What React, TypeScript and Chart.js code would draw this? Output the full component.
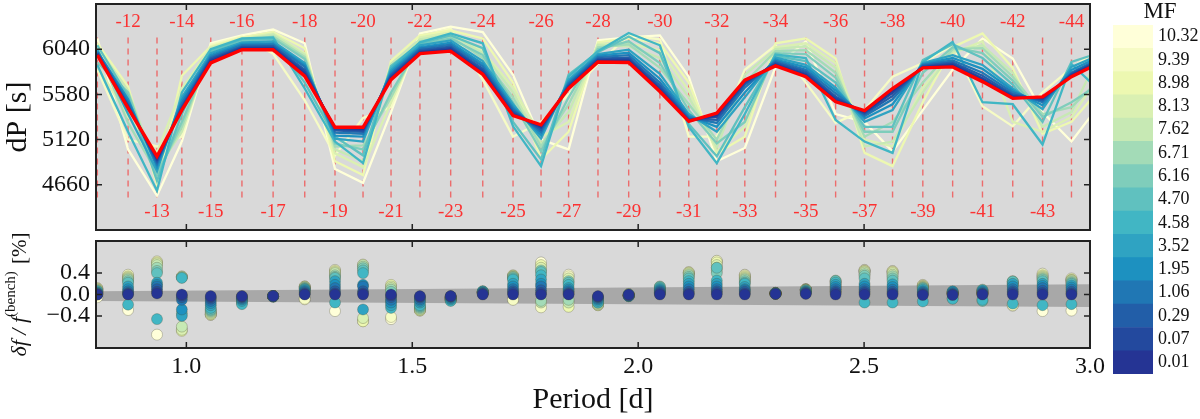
import { useEffect, useRef } from "react"
import { Chart, registerables } from "chart.js"

Chart.register(...registerables)

// radial orders of the g modes and where they sit in period (days)
const modeOrders = [
  -11, -12, -13, -14, -15, -16, -17, -18, -19, -20, -21, -22, -23, -24, -25, -26, -27, -28,
  -29, -30, -31, -32, -33, -34, -35, -36, -37, -38, -39, -40, -41, -42, -43, -44, -45,
]
const modePeriods = [
  0.803, 0.871, 0.935, 0.99, 1.054, 1.123, 1.192, 1.262, 1.329, 1.391, 1.453, 1.517, 1.585,
  1.656, 1.723, 1.785, 1.846, 1.911, 1.979, 2.048, 2.112, 2.174, 2.236, 2.304, 2.371, 2.437,
  2.501, 2.563, 2.63, 2.696, 2.762, 2.829, 2.895, 2.959, 3.025,
]

// benchmark period spacing (red)
const benchmarkDP = [
  5980, 5440, 4950, 5420, 5900, 6035, 6035, 5765, 5245, 5245, 5730, 5995, 6020, 5785, 5365,
  5270, 5640, 5910, 5905, 5610, 5305, 5390, 5725, 5870, 5760, 5505, 5415, 5640, 5850, 5860,
  5710, 5540, 5555, 5760, 5910,
]

// MF values, low to high (dark to light)
const mfLabels = ["0.01", "0.07", "0.29", "1.06", "1.95", "3.52", "4.58", "4.70", "6.16", "6.71", "7.62", "8.13", "8.98", "9.39", "10.32"]
const mfColors = [
  "#253494", "#23499e", "#225ea8", "#2077b4", "#1d91c0", "#2fa3c2", "#41b6c4", "#60c1bf",
  "#7fcdbb", "#a3dbb7", "#c7e9b4", "#daf0b2", "#edf8b1", "#f6fbc5", "#ffffd9",
]

// dP per mode for each MF (same order as mfLabels)
const dpSeries = [
  [5988, 5450, 4930, 5430, 5915, 6045, 6045, 5790, 5240, 5230, 5745, 6005, 6035, 5800, 5375, 5255, 5650, 5920, 5920, 5625, 5310, 5370, 5715, 5880, 5775, 5520, 5405, 5620, 5855, 5875, 5725, 5550, 5545, 5770, 5920],
  [5995, 5460, 4915, 5445, 5930, 6055, 6055, 5810, 5230, 5215, 5760, 6015, 6050, 5820, 5390, 5240, 5660, 5930, 5935, 5645, 5320, 5350, 5700, 5890, 5790, 5540, 5395, 5595, 5860, 5890, 5745, 5565, 5535, 5780, 5930],
  [6000, 5475, 4895, 5460, 5945, 6065, 6070, 5830, 5215, 5200, 5775, 6030, 6065, 5840, 5410, 5220, 5675, 5945, 5955, 5670, 5330, 5320, 5680, 5905, 5810, 5560, 5380, 5565, 5870, 5905, 5770, 5580, 5520, 5790, 5940],
  [6010, 5500, 4870, 5490, 5960, 6080, 6085, 5860, 5190, 5180, 5790, 6045, 6085, 5865, 5430, 5195, 5690, 5960, 5980, 5700, 5345, 5290, 5650, 5920, 5830, 5590, 5360, 5530, 5880, 5925, 5800, 5600, 5500, 5800, 5955],
  [6020, 5530, 4840, 5520, 5980, 6095, 6100, 5880, 5160, 5150, 5810, 6060, 6105, 5890, 5450, 5165, 5710, 5975, 6005, 5740, 5360, 5250, 5600, 5935, 5855, 5620, 5335, 5480, 5890, 5950, 5840, 5620, 5470, 5830, 5970],
  [6035, 5380, 4800, 5550, 6000, 6110, 6120, 5900, 5130, 5100, 5830, 6080, 6130, 5920, 5480, 5130, 5730, 5990, 6035, 5790, 5380, 5200, 5550, 5955, 5880, 5650, 5300, 5420, 5900, 5980, 5880, 5640, 5430, 5860, 5990],
  [5880, 5200, 4600, 5600, 6040, 6150, 6160, 5640, 5100, 4880, 5850, 6110, 6200, 6100, 5255, 4850, 5760, 6020, 6205, 6080, 5250, 4880, 5380, 5985, 5950, 5320, 5100, 4985, 5910, 6115, 5500, 5480, 5070, 5890, 5600],
  [6080, 5560, 4700, 5380, 6020, 6140, 6140, 5700, 5150, 4960, 5870, 6100, 6180, 6050, 5300, 4920, 5780, 6010, 6170, 6000, 5280, 4950, 5450, 5970, 5920, 5700, 5250, 5250, 5930, 6090, 5950, 5680, 5300, 5910, 6010],
  [5905, 5600, 4760, 5300, 6010, 6130, 6150, 5940, 5080, 5020, 5600, 6090, 6150, 5980, 5500, 5000, 5550, 6040, 6120, 5900, 5420, 5080, 5300, 6000, 5990, 5750, 5200, 5200, 5800, 6060, 6000, 5720, 5350, 5500, 5700],
  [6045, 5290, 4780, 5250, 6030, 6120, 6170, 5960, 5050, 5060, 5550, 6120, 6170, 5950, 5550, 5050, 5480, 6060, 6090, 5850, 5480, 5120, 5700, 6020, 6030, 5800, 5150, 5300, 5700, 6040, 6050, 5760, 5380, 5450, 5750],
  [6060, 5620, 4820, 5200, 6050, 6135, 6190, 5980, 5020, 4900, 5890, 6140, 6190, 6000, 5600, 5080, 5400, 6080, 6070, 5950, 5550, 5040, 5780, 6040, 6070, 5850, 5050, 5100, 5600, 6020, 6080, 5800, 5250, 5400, 6030],
  [5870, 5350, 4990, 5640, 6060, 6150, 6200, 6000, 4980, 4840, 5500, 6160, 6210, 6020, 5650, 5150, 5300, 6095, 6100, 6030, 5620, 5000, 5250, 6060, 6100, 5900, 5120, 5050, 5650, 6000, 6120, 5300, 5200, 5350, 5800],
  [6100, 5660, 4660, 5770, 6070, 6160, 6215, 6050, 4900, 4760, 5920, 6180, 6230, 6150, 5700, 4920, 5200, 6110, 6150, 6100, 5700, 4980, 5150, 6100, 6150, 5945, 4985, 4850, 5500, 6060, 6200, 5850, 5180, 5300, 5650],
  [5830, 5120, 5050, 5150, 6085, 6170, 5995, 5520, 4960, 5340, 5450, 6170, 6250, 5730, 5150, 5300, 5580, 5890, 6180, 6140, 5150, 5150, 5830, 6080, 5700, 5290, 5420, 5760, 5900, 6080, 5460, 5255, 5600, 5850, 6050],
  [6150, 5020, 4550, 5100, 6100, 6180, 6240, 6100, 4820, 4680, 5400, 6200, 6270, 6215, 5780, 5120, 5020, 6130, 6160, 6180, 5760, 4900, 5035, 5860, 6120, 5380, 5300, 5000, 5420, 5830, 6150, 5945, 5400, 5100, 5500],
]

// relative frequency difference [%] per mode (-11 .. -44) for each MF
const dfSeries = [
  [0, 0, 0.02, 0, -0.03, -0.03, -0.03, 0, 0, 0, 0, -0.03, -0.03, 0, 0, 0, 0, -0.03, 0, 0, 0, 0, 0, 0.01, 0.01, 0, 0, 0, -0.01, -0.01, 0, 0, 0, 0],
  [0, 0.01, 0.05, -0.02, -0.05, -0.04, -0.03, 0.01, 0.02, 0.02, -0.02, -0.04, -0.03, 0.01, 0.03, 0.03, 0.01, -0.04, -0.01, 0.02, 0.02, 0.03, 0.02, 0.01, 0.02, 0.03, 0.03, 0.02, 0, 0, 0.01, 0.03, 0.03, 0.02],
  [0.01, 0.03, 0.1, -0.05, -0.08, -0.05, -0.03, 0.03, 0.06, 0.06, -0.05, -0.06, -0.04, 0.02, 0.06, 0.08, 0.03, -0.05, -0.02, 0.04, 0.05, 0.06, 0.05, 0.02, 0.03, 0.06, 0.06, 0.05, 0.02, 0.01, 0.02, 0.06, 0.07, 0.05],
  [0.02, 0.06, 0.15, -0.1, -0.12, -0.07, -0.03, 0.05, 0.12, 0.15, -0.1, -0.09, -0.05, 0.03, 0.1, 0.15, 0.06, -0.07, -0.02, 0.06, 0.1, 0.1, 0.08, 0.02, 0.04, 0.1, 0.1, 0.09, 0.04, 0.03, 0.04, 0.1, 0.12, 0.09],
  [0.03, 0.1, 0.18, -0.28, -0.16, -0.09, -0.03, 0.07, 0.18, 0.18, -0.15, -0.12, -0.07, 0.04, 0.15, 0.2, 0.09, -0.09, -0.03, 0.08, 0.15, 0.15, 0.1, 0.02, 0.05, 0.14, 0.15, 0.14, 0.06, 0.05, 0.06, 0.15, 0.16, 0.13],
  [0.04, 0.15, 0.22, -0.4, -0.2, -0.12, -0.04, 0.09, 0.25, -0.28, -0.2, -0.15, -0.09, 0.05, 0.2, 0.28, 0.12, -0.12, -0.03, 0.1, 0.2, 0.2, 0.14, 0.03, 0.06, 0.18, 0.2, 0.19, 0.09, 0.06, 0.08, 0.2, 0.2, 0.17],
  [0.06, -0.19, -0.46, 0.31, -0.25, -0.18, -0.04, 0.1, -0.15, 0.4, -0.25, -0.2, -0.12, 0.06, 0.28, 0.36, 0.18, -0.15, -0.02, 0.12, 0.25, 0.26, 0.2, 0.03, 0.07, 0.22, -0.15, -0.15, -0.13, -0.08, -0.1, -0.17, -0.2, -0.18],
  [0.05, 0.22, 0.4, -0.35, -0.28, -0.15, -0.03, 0.11, 0.31, 0.45, -0.12, -0.22, -0.11, 0.06, 0.3, 0.42, 0.22, -0.14, -0.01, 0.14, 0.3, 0.5, 0.22, 0.02, 0.08, 0.25, 0.3, 0.26, 0.11, -0.07, -0.12, 0.24, 0.25, 0.2],
  [0.07, 0.25, 0.44, 0.32, -0.3, -0.12, -0.03, 0.12, 0.33, 0.49, 0.05, -0.24, -0.1, 0.05, 0.32, 0.45, 0.25, -0.13, 0, 0.15, 0.33, 0.4, 0.25, 0.02, 0.08, 0.26, 0.35, 0.3, 0.12, 0.05, 0.09, 0.25, 0.28, 0.22],
  [0.08, 0.28, 0.5, 0.33, -0.32, -0.1, -0.03, 0.13, 0.36, 0.52, 0.09, -0.26, -0.09, 0.05, 0.33, -0.12, -0.1, -0.16, 0.01, 0.1, 0.36, 0.45, 0.28, 0.02, 0.09, 0.24, 0.38, 0.34, 0.13, 0.04, 0.07, 0.24, 0.3, 0.24],
  [0.09, 0.3, 0.55, -0.6, -0.34, -0.08, -0.03, 0.14, 0.4, 0.55, 0.12, -0.28, -0.08, 0.04, 0.34, -0.15, -0.15, -0.18, 0, 0.08, 0.38, 0.5, 0.3, 0.01, 0.09, 0.2, 0.41, 0.37, 0.14, 0.03, 0.05, 0.22, 0.32, 0.26],
  [0.1, 0.32, 0.58, -0.66, -0.36, -0.06, -0.03, 0.15, 0.42, -0.44, 0.15, -0.29, -0.07, 0.04, 0.35, 0.5, 0.3, -0.19, -0.01, 0.06, 0.4, 0.55, 0.32, 0.02, 0.09, 0.16, 0.43, 0.4, 0.15, 0.02, 0.03, 0.2, 0.34, 0.27],
  [0.11, 0.34, 0.6, -0.68, -0.37, -0.05, -0.04, 0.15, 0.44, -0.5, 0.18, -0.3, -0.06, 0.03, 0.36, 0.55, -0.23, -0.2, -0.02, 0.04, 0.41, 0.6, 0.34, 0.02, 0.1, 0.12, 0.44, 0.42, 0.16, 0.01, 0.02, 0.18, 0.36, 0.28],
  [0.12, 0.37, 0.62, 0.34, -0.38, -0.04, -0.03, -0.08, 0.46, 0.56, -0.42, -0.3, -0.05, 0.03, -0.1, -0.24, 0.34, -0.2, -0.03, 0.03, 0.42, 0.63, 0.36, 0.01, 0.1, 0.08, 0.45, 0.43, 0.17, 0, 0.01, -0.2, 0.39, 0.3],
  [-0.05, -0.29, -0.75, 0.33, -0.38, -0.03, -0.03, -0.09, -0.31, -0.5, -0.46, -0.28, -0.05, 0.02, -0.09, 0.6, 0.37, -0.18, -0.02, 0.02, 0.4, 0.62, 0.37, 0.03, 0.09, 0.05, 0.46, 0.44, 0.18, 0.02, 0.01, -0.21, -0.31, -0.3],
]

// grey uncertainty band in the lower panel
const bandPeriods = [0.8, 3.0]
const bandUpper = [0.06, 0.19]
const bandLower = [-0.12, -0.235]

// axis ticks
const periodTicks = [1.0, 1.5, 2.0, 2.5, 3.0]
const dpTicks = [4660, 5120, 5580, 6040]
const dfTicks = [-0.4, 0, 0.4]

const FONT = '"Liberation Serif", "DejaVu Serif", serif'
const INK = "#111"

// keep chart.js from shrinking the plot area for edge labels
const noEdgePadding = (scale: any) => {
  scale.paddingTop = 0
  scale.paddingBottom = 0
  scale.paddingLeft = 0
  scale.paddingRight = 0
}

function framePlugin(xTicks: number[], yTicks: number[]) {
  return {
    id: "frame",
    beforeDatasetsDraw(chart: any) {
      const { ctx, chartArea: a } = chart
      ctx.save()
      ctx.fillStyle = "#d9d9d9"
      ctx.fillRect(a.left, a.top, a.right - a.left, a.bottom - a.top)
      ctx.restore()
    },
    afterDatasetsDraw(chart: any) {
      const { ctx, chartArea: a, scales } = chart
      ctx.save()
      ctx.strokeStyle = "#222"
      ctx.lineWidth = 1.5
      ctx.beginPath()
      xTicks.forEach((v) => {
        const x = scales.x.getPixelForValue(v)
        if (x <= a.left + 1 || x >= a.right - 1) return
        ctx.moveTo(x, a.top)
        ctx.lineTo(x, a.top + 6)
        ctx.moveTo(x, a.bottom)
        ctx.lineTo(x, a.bottom - 6)
      })
      yTicks.forEach((v) => {
        const y = scales.y.getPixelForValue(v)
        ctx.moveTo(a.left, y)
        ctx.lineTo(a.left + 6, y)
        ctx.moveTo(a.right, y)
        ctx.lineTo(a.right - 6, y)
      })
      ctx.stroke()
      ctx.lineWidth = 2
      ctx.strokeRect(a.left, a.top, a.right - a.left, a.bottom - a.top)
      ctx.restore()
    },
  }
}

const modeLabelPlugin = {
  id: "modeLabels",
  afterDatasetsDraw(chart: any) {
    const { ctx, scales } = chart
    ctx.save()
    ctx.font = `19px ${FONT}`
    ctx.fillStyle = "rgba(255, 30, 30, 0.9)"
    ctx.textAlign = "center"
    ctx.textBaseline = "middle"
    modeOrders.forEach((n, i) => {
      if (i === 0 || i === modeOrders.length - 1) return
      const x = scales.x.getPixelForValue(modePeriods[i])
      const y = scales.y.getPixelForValue(n % 2 === 0 ? 6313 : 4382)
      ctx.fillText(String(n), x, y)
    })
    ctx.restore()
  },
}

const dfTitlePlugin = {
  id: "dfTitle",
  afterDraw(chart: any) {
    const { ctx, chartArea: a } = chart
    const parts = [
      { text: "δf / f", font: `italic 22px ${FONT}`, dy: 0 },
      { text: "(bench)", font: `15px ${FONT}`, dy: -9 },
      { text: " [%]", font: `21px ${FONT}`, dy: 0 },
    ]
    ctx.save()
    let total = 0
    const widths = parts.map((p) => {
      ctx.font = p.font
      const w = ctx.measureText(p.text).width + (p.text === "(bench)" ? 2 : 0)
      total += w
      return w
    })
    ctx.translate(20, (a.top + a.bottom) / 2)
    ctx.rotate(-Math.PI / 2)
    ctx.fillStyle = INK
    ctx.textBaseline = "middle"
    let x = -total / 2
    parts.forEach((p, i) => {
      ctx.font = p.font
      ctx.fillText(p.text, x, p.dy)
      x += widths[i]
    })
    ctx.restore()
  },
}

const mfTitlePlugin = {
  id: "mfTitle",
  afterDraw(chart: any) {
    const { ctx } = chart
    ctx.save()
    ctx.font = `23px ${FONT}`
    ctx.fillStyle = INK
    ctx.textAlign = "center"
    ctx.textBaseline = "middle"
    ctx.fillText("MF", 60, 12)
    ctx.restore()
  },
}

const toPoints = (ys: number[]) => ys.map((y, i) => ({ x: modePeriods[i], y }))

export default function App() {
  const topRef = useRef<HTMLCanvasElement>(null)
  const bottomRef = useRef<HTMLCanvasElement>(null)
  const barRef = useRef<HTMLCanvasElement>(null)

  useEffect(() => {
    if (!topRef.current || !bottomRef.current || !barRef.current) return

    const dashPoints = modePeriods.flatMap((p) => [
      { x: p, y: 4530 },
      { x: p, y: 6200 },
      { x: p, y: null },
    ])

    const top = new Chart(topRef.current, {
      type: "line",
      data: {
        datasets: [
          { label: "benchmark", data: toPoints(benchmarkDP), borderColor: "#ff0000", borderWidth: 3.4, pointRadius: 0 },
          ...dpSeries.map((s, i) => ({
            label: mfLabels[i],
            data: toPoints(s),
            borderColor: mfColors[i],
            borderWidth: 2.3,
            pointRadius: 0,
          })),
          {
            label: "modes",
            data: dashPoints,
            borderColor: "rgba(240, 80, 80, 0.8)",
            borderWidth: 1.4,
            borderDash: [6, 5],
            pointRadius: 0,
            spanGaps: false,
          },
        ] as any,
      },
      options: {
        animation: false,
        responsive: false,
        layout: { padding: { top: 4, right: 20, bottom: 8, left: 0 } },
        plugins: { legend: { display: false }, tooltip: { enabled: false } },
        elements: { line: { tension: 0 } },
        scales: {
          x: { type: "linear", min: 0.8, max: 3.0, display: false },
          y: {
            min: 4200,
            max: 6500,
            afterFit: (scale: any) => {
              scale.width = 96
              noEdgePadding(scale)
            },
            afterBuildTicks: (scale: any) => {
              scale.ticks = dpTicks.map((v) => ({ value: v }))
            },
            grid: { display: false, drawTicks: false },
            border: { display: false },
            ticks: {
              color: INK,
              font: { family: FONT, size: 24 },
              padding: 6,
              autoSkip: false,
              callback: (v: any) => String(v),
            },
            title: {
              display: true,
              text: "dP [s]",
              color: INK,
              font: { family: FONT, size: 30 },
              padding: { top: 0, bottom: 0 },
            },
          },
        },
      },
      plugins: [framePlugin(periodTicks, dpTicks), modeLabelPlugin],
    })

    const bottom = new Chart(bottomRef.current, {
      type: "line",
      data: {
        datasets: [
          ...dfSeries.map((s, i) => ({
            label: mfLabels[i],
            data: toPoints(s),
            showLine: false,
            pointRadius: 5.5,
            pointBackgroundColor: mfColors[i],
            pointBorderColor: "rgba(70, 70, 40, 0.35)",
            pointBorderWidth: 0.8,
          })),
          {
            label: "band upper",
            data: bandPeriods.map((x, i) => ({ x, y: bandUpper[i] })),
            borderWidth: 0,
            pointRadius: 0,
            fill: "+1",
            backgroundColor: "#a8a8a8",
          },
          {
            label: "band lower",
            data: bandPeriods.map((x, i) => ({ x, y: bandLower[i] })),
            borderWidth: 0,
            pointRadius: 0,
            fill: false,
          },
        ] as any,
      },
      options: {
        animation: false,
        responsive: false,
        layout: { padding: { top: 21, right: 20, bottom: 0, left: 0 } },
        plugins: { legend: { display: false }, tooltip: { enabled: false } },
        scales: {
          x: {
            type: "linear",
            min: 0.8,
            max: 3.0,
            afterFit: (scale: any) => {
              scale.height = 71
              noEdgePadding(scale)
            },
            afterBuildTicks: (scale: any) => {
              scale.ticks = periodTicks.map((v) => ({ value: v }))
            },
            grid: { display: false, drawTicks: false },
            border: { display: false },
            ticks: {
              color: INK,
              font: { family: FONT, size: 24 },
              padding: 4,
              autoSkip: false,
              maxRotation: 0,
              callback: (v: any) => Number(v).toFixed(1),
            },
            title: {
              display: true,
              text: "Period [d]",
              color: INK,
              font: { family: FONT, size: 30 },
              padding: { top: 0, bottom: 1 },
            },
          },
          y: {
            min: -1,
            max: 1,
            afterFit: (scale: any) => {
              scale.width = 96
              noEdgePadding(scale)
            },
            afterBuildTicks: (scale: any) => {
              scale.ticks = dfTicks.map((v) => ({ value: v }))
            },
            grid: { display: false, drawTicks: false },
            border: { display: false },
            ticks: {
              color: INK,
              font: { family: FONT, size: 24 },
              padding: 6,
              autoSkip: false,
              callback: (v: any) => (Number(v) < 0 ? "\u2212" + Math.abs(Number(v)).toFixed(1) : Number(v).toFixed(1)),
            },
          },
        },
      },
      plugins: [framePlugin(periodTicks, dfTicks), dfTitlePlugin],
    })

    const barLabels = [...mfLabels].reverse()
    const barColors = [...mfColors].reverse()
    const bar = new Chart(barRef.current, {
      type: "bar",
      data: {
        labels: barLabels,
        datasets: [
          {
            data: [1, 1, 1, 1, 1, 1, 1, 1, 1, 1, 1, 1, 1, 1, 1],
            backgroundColor: barColors,
            borderWidth: 0,
            barPercentage: 1,
            categoryPercentage: 1,
          },
        ],
      },
      options: {
        indexAxis: "y",
        animation: false,
        responsive: false,
        layout: { padding: { top: 25, right: 0, bottom: 45, left: 13 } },
        plugins: { legend: { display: false }, tooltip: { enabled: false } },
        scales: {
          x: { min: 0, max: 1, display: false },
          y: {
            position: "right",
            afterFit: (scale: any) => {
              scale.width = 47
              noEdgePadding(scale)
            },
            grid: { display: false, drawTicks: false },
            border: { display: false },
            ticks: { color: INK, font: { family: FONT, size: 18 }, padding: 5, autoSkip: false },
          },
        },
      },
      plugins: [mfTitlePlugin],
    })

    return () => {
      top.destroy()
      bottom.destroy()
      bar.destroy()
    }
  }, [])

  return (
    <div style={{ position: "absolute", left: 0, top: 0, width: 1200, height: 419, background: "#fff" }}>
      <canvas ref={topRef} width={1110} height={238} style={{ position: "absolute", left: 0, top: 0, width: 1110, height: 238 }} />
      <canvas ref={bottomRef} width={1110} height={199} style={{ position: "absolute", left: 0, top: 220, width: 1110, height: 199 }} />
      <canvas ref={barRef} width={100} height={419} style={{ position: "absolute", left: 1100, top: 0, width: 100, height: 419 }} />
    </div>
  )
}
